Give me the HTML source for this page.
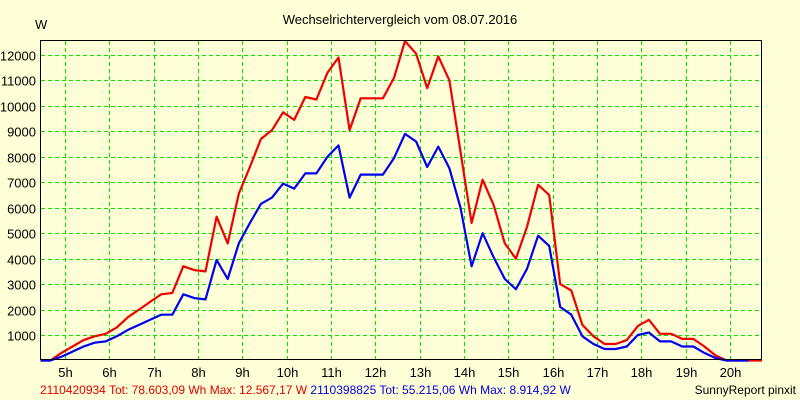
<!DOCTYPE html>
<html><head><meta charset="utf-8"><style>
body{margin:0;background:#ffffd7;}
svg{display:block;font-family:"Liberation Sans",sans-serif;}
</style></head><body>
<svg id="chart" width="800" height="400" viewBox="0 0 800 400">
<rect x="0" y="0" width="800" height="400" fill="#ffffd7"/>
<text x="400" y="24" text-anchor="middle" font-size="13" fill="#000">Wechselrichtervergleich vom 08.07.2016</text>
<text x="35" y="29" font-size="13" fill="#000">W</text>
<g id="grid"></g>
<g id="series"></g>
<rect x="40.5" y="40.5" width="721" height="319" fill="none" stroke="#000" stroke-width="1"/>
<g id="labels"></g>
<text x="40" y="394" font-size="12"><tspan fill="#e00000">2110420934 Tot: 78.603,09 Wh Max: 12.567,17 W</tspan><tspan fill="#0000e0"> 2110398825 Tot: 55.215,06 Wh Max: 8.914,92 W</tspan></text>
<text x="796" y="394" text-anchor="end" font-size="12" fill="#000">SunnyReport pinxit</text>
</svg>
<script>
const hours = [4.45,4.67,4.92,5.17,5.42,5.67,5.92,6.17,6.42,6.67,6.92,7.17,7.42,7.67,7.92,8.17,8.42,8.67,8.92,9.17,9.42,9.67,9.92,10.17,10.42,10.67,10.92,11.17,11.42,11.67,11.92,12.17,12.42,12.67,12.92,13.17,13.42,13.67,13.92,14.17,14.42,14.67,14.92,15.17,15.42,15.67,15.92,16.17,16.42,16.67,16.92,17.17,17.42,17.67,17.92,18.17,18.42,18.67,18.92,19.17,19.42,19.67,19.92,20.17,20.42,20.72];
const redValues = [0,0,300,550,800,950,1050,1300,1700,2000,2300,2600,2650,3700,3550,3500,5650,4600,6550,7600,8700,9050,9750,9450,10350,10250,11300,11900,9050,10300,10300,10300,11100,12550,12050,10700,11950,11000,8200,5400,7100,6100,4600,4000,5250,6900,6500,3000,2750,1400,950,650,650,800,1350,1600,1050,1050,850,850,550,200,0,0,0,0];
const blueValues = [0,0,150,350,550,700,750,950,1200,1400,1600,1800,1800,2600,2450,2400,3950,3200,4600,5400,6150,6400,6950,6750,7350,7350,8000,8450,6400,7300,7300,7300,7950,8900,8600,7600,8400,7550,6000,3700,5000,4050,3200,2800,3600,4900,4500,2100,1800,950,650,450,450,550,1000,1100,750,750,550,550,300,100,0,0,0,null];
const xTicks = [5,6,7,8,9,10,11,12,13,14,15,16,17,18,19,20];
const xTickLabels = ["5h","6h","7h","8h","9h","10h","11h","12h","13h","14h","15h","16h","17h","18h","19h","20h"];
const yTicks = [1000,2000,3000,4000,5000,6000,7000,8000,9000,10000,11000,12000];

const NS="http://www.w3.org/2000/svg";
const X0=41, X1=762, H0=4.46, H1=20.72;
const xs = h => X0 + (h-H0)*(X1-X0)/(H1-H0);
const ys = v => 360.5 - v*0.02546;
const grid=document.getElementById('grid'), lab=document.getElementById('labels'), ser=document.getElementById('series');
xTicks.forEach((h,i)=>{
  const x=Math.round(xs(h))+0.5;
  const l=document.createElementNS(NS,'line');
  
  
  l.setAttribute('x1',x);l.setAttribute('x2',x);l.setAttribute('y1',41);l.setAttribute('y2',359);
  l.setAttribute('stroke','#00e600');l.setAttribute('stroke-dasharray','4 3');
  grid.appendChild(l);
  const t=document.createElementNS(NS,'text');
  
  
  t.setAttribute('x',x);t.setAttribute('y',377);t.setAttribute('text-anchor','middle');t.setAttribute('font-size','13');
  t.textContent=xTickLabels[i];
  lab.appendChild(t);
});
yTicks.forEach(v=>{
  const y=Math.round(ys(v))+0.5;
  const l=document.createElementNS(NS,'line');
  
  
  l.setAttribute('x1',41);l.setAttribute('x2',762);l.setAttribute('y1',y);l.setAttribute('y2',y);
  l.setAttribute('stroke','#00e600');l.setAttribute('stroke-dasharray','4 3');
  grid.appendChild(l);
  const t=document.createElementNS(NS,'text');
  
  
  t.setAttribute('x',36);t.setAttribute('y',y+5);t.setAttribute('text-anchor','end');t.setAttribute('font-size','13');
  t.textContent=v;
  lab.appendChild(t);
});
function line(vals,color,name){
  const pts=[];
  vals.forEach((v,i)=>{ if(v!==null) pts.push(xs(hours[i]).toFixed(1)+','+ys(v).toFixed(1)); });
  const p=document.createElementNS(NS,'polyline');
  
  
  p.setAttribute('points',pts.join(' '));p.setAttribute('fill','none');
  p.setAttribute('stroke',color);p.setAttribute('stroke-width','2.2');p.setAttribute('stroke-linejoin','round');
  ser.appendChild(p);
}
line(redValues,'#f00000','red-series-line');
line(blueValues,'#0000f0','blue-series-line');
</script>
</body></html>
